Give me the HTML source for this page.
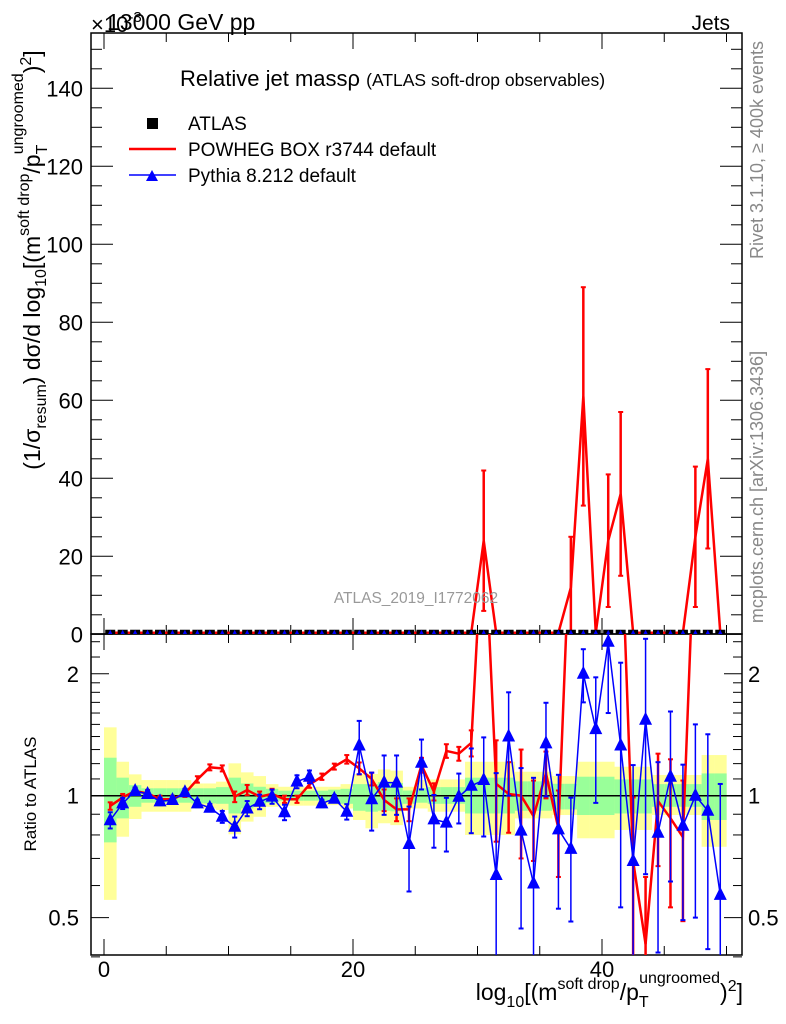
<!DOCTYPE html>
<html><head><meta charset="utf-8"><style>
html,body{margin:0;padding:0;background:#fff;overflow:hidden;width:786px;height:1024px;}
svg{display:block;font-family:"Liberation Sans",sans-serif;}
</style></head><body>
<svg id="chart" width="786" height="1024" viewBox="0 0 786 1024" xmlns="http://www.w3.org/2000/svg">
<defs>
<clipPath id="clipTop"><rect x="91" y="33" width="651" height="601"/></clipPath>
<clipPath id="clipRat"><rect x="91" y="634" width="651" height="321"/></clipPath>
</defs>
<g id="bands" clip-path="url(#clipRat)"></g>
<g id="axes"></g>
<g id="series"></g>
<text x="107" y="30" font-size="23">13000 GeV pp</text>
<text x="91" y="32" font-size="22">×10<tspan dy="-10" font-size="15">-3</tspan></text>
<text x="730" y="30" font-size="21" text-anchor="end">Jets</text>
<text x="180" y="86" font-size="22">Relative jet massρ <tspan font-size="17.5">(ATLAS soft-drop observables)</tspan></text>
<g>
<rect x="147" y="118" width="11" height="11" fill="#000"/>
<text x="188" y="130" font-size="19">ATLAS</text>
<line x1="129" y1="149" x2="176" y2="149" stroke="#f00" stroke-width="2.5"/>
<text x="188" y="156" font-size="19">POWHEG BOX r3744 default</text>
<line x1="129" y1="175" x2="176" y2="175" stroke="#00f" stroke-width="1.5"/>
<polygon points="146,181 158,181 152,170" fill="#00f"/>
<text x="188" y="182" font-size="19">Pythia 8.212 default</text>
</g>
<text x="416" y="603" font-size="15.5" fill="#999" text-anchor="middle">ATLAS_2019_I1772062</text>
<text transform="translate(763,150) rotate(-90)" font-size="18" fill="#888" text-anchor="middle">Rivet 3.1.10, ≥ 400k events</text>
<text transform="translate(763,487) rotate(-90)" font-size="18" fill="#888" text-anchor="middle">mcplots.cern.ch [arXiv:1306.3436]</text>
<text transform="translate(40,260) rotate(-90)" font-size="23" text-anchor="middle">(1/σ<tspan font-size="16" dy="6">resum</tspan><tspan dy="-6">) dσ/d log</tspan><tspan font-size="16" dy="6">10</tspan><tspan dy="-6">[(m</tspan><tspan font-size="16" dy="-11">soft drop</tspan><tspan dy="11">/p</tspan><tspan font-size="16" dy="7">T</tspan><tspan font-size="16" dx="-9" dy="-24">ungroomed</tspan><tspan dy="17">)</tspan><tspan font-size="16" dy="-9">2</tspan><tspan dy="9">]</tspan></text>
<text transform="translate(36,794) rotate(-90)" font-size="17" text-anchor="middle">Ratio to ATLAS</text>
<text x="743" y="1000" font-size="23" text-anchor="end">log<tspan font-size="16" dy="7">10</tspan><tspan dy="-7">[(m</tspan><tspan font-size="16" dy="-11">soft drop</tspan><tspan dy="11">/p</tspan><tspan font-size="16" dy="7">T</tspan><tspan font-size="16" dx="-9" dy="-24">ungroomed</tspan><tspan dy="17">)</tspan><tspan font-size="16" dy="-9">2</tspan><tspan dy="9">]</tspan></text>
<script>
const bins = [0,1,2,3,4,5,6,7,8,9,10,11,12,13,14,15,16,17,18,19,20,21,22,23,24,25,26,27,28,29,30,31,32,33,34,35,36,37,38,39,40,41,42,43,44,45,46,47,48,49];
const topData = [0.4,0.4,0.4,0.4,0.4,0.4,0.4,0.4,0.4,0.4,0.4,0.4,0.4,0.4,0.4,0.4,0.4,0.4,0.4,0.4,0.4,0.4,0.4,0.4,0.4,0.4,0.4,0.4,0.4,0.4,0.4,0.4,0.4,0.4,0.4,0.4,0.4,0.4,0.4,0.4,0.4,0.4,0.4,0.4,0.4,0.4,0.4,0.4,0.4,0.4];
const topRed = [0.4,0.4,0.4,0.4,0.4,0.4,0.4,0.4,0.4,0.4,0.4,0.4,0.4,0.4,0.4,0.4,0.4,0.4,0.4,0.4,0.4,0.4,0.4,0.4,0.4,0.4,0.4,0.4,0.4,0.4,24,0.4,0.4,0.4,0.4,0.4,0.4,12,61,0.4,24,36,0.4,0.4,0.4,0.4,0.4,25,45,0.4];
const topRedErr = [0,0,0,0,0,0,0,0,0,0,0,0,0,0,0,0,0,0,0,0,0,0,0,0,0,0,0,0,0,0,18,0,0,0,0,0,0,13,28,0,17,21,0,0,0,0,0,18,23,0];
const ratioRed = [0.943,0.99,1.027,1.013,0.98,0.98,1.013,1.097,1.175,1.168,0.994,1.033,0.994,1.01,0.98,0.98,1.066,1.114,1.18,1.23,1.168,1.10,0.976,0.925,0.925,1.19,1.023,1.29,1.27,1.35,5,1.07,1.01,1.0,0.89,1.135,0.83,5,5,5,5,5,0.69,0.43,0.97,0.88,0.79,5,5,5];
const ratioRedErr = [0.02,0.02,0.02,0.02,0.02,0.02,0.02,0.02,0.02,0.02,0.03,0.03,0.03,0.03,0.02,0.02,0.02,0.02,0.02,0.03,0.04,0.04,0.06,0.06,0.06,0.05,0.05,0.05,0.05,0.1,0,0.3,0.2,0.3,0.2,0.15,0.2,0,0,0,0,0,0.3,0.2,0.3,0.35,0.3,0,0,0];
const ratioBlue = [0.87,0.957,1.027,1.01,0.968,0.976,1.02,0.957,0.934,0.887,0.838,0.93,0.966,0.995,0.91,1.083,1.114,0.957,0.983,0.913,1.33,0.98,1.077,1.077,0.76,1.206,0.874,0.858,0.994,1.058,1.093,0.637,1.40,0.82,0.607,1.346,0.826,0.739,2.0,1.46,2.4,1.33,0.69,1.54,0.81,1.114,0.843,1.0,0.918,0.569];
const ratioBlueErr = [0.04,0.03,0.02,0.02,0.02,0.02,0.02,0.02,0.02,0.03,0.05,0.04,0.04,0.04,0.04,0.04,0.04,0.02,0.02,0.04,0.2,0.16,0.18,0.18,0.18,0.17,0.13,0.13,0.14,0.25,0.3,0.5,0.4,0.35,0.5,0.35,0.3,0.25,0.3,0.5,0.8,0.8,0.5,0.9,0.4,0.5,0.35,0.5,0.5,0.5];
const yHi = [1.475,1.213,1.129,1.093,1.093,1.093,1.093,1.072,1.072,1.083,1.202,1.142,1.118,1.068,1.052,1.052,1.052,1.052,1.052,1.068,1.131,1.131,1.161,1.153,1.052,1.093,1.097,1.097,1.097,1.213,1.213,1.213,1.213,1.146,1.146,1.146,1.118,1.118,1.213,1.213,1.213,1.179,1.179,1.179,1.125,1.125,1.125,1.125,1.260,1.260];
const yLo = [0.553,0.792,0.876,0.913,0.913,0.913,0.913,0.930,0.930,0.922,0.803,0.863,0.887,0.939,0.945,0.945,0.945,0.945,0.948,0.930,0.871,0.831,0.855,0.846,0.930,0.930,0.913,0.913,0.913,0.800,0.800,0.800,0.800,0.879,0.879,0.879,0.896,0.896,0.785,0.785,0.785,0.823,0.823,0.823,0.896,0.896,0.896,0.896,0.748,0.748];
const gHi = [1.241,1.108,1.062,1.043,1.043,1.043,1.043,1.043,1.043,1.05,1.108,1.072,1.052,1.04,1.029,1.029,1.029,1.029,1.035,1.04,1.068,1.068,1.081,1.075,1.03,1.043,1.05,1.05,1.05,1.108,1.108,1.108,1.108,1.085,1.085,1.085,1.07,1.07,1.114,1.114,1.114,1.097,1.097,1.097,1.068,1.068,1.068,1.068,1.135,1.135];
const gLo = [0.767,0.879,0.939,0.961,0.961,0.961,0.961,0.957,0.957,0.955,0.904,0.93,0.948,0.96,0.972,0.972,0.972,0.972,0.965,0.955,0.918,0.913,0.918,0.915,0.955,0.961,0.955,0.955,0.955,0.904,0.904,0.904,0.904,0.918,0.918,0.918,0.925,0.925,0.896,0.896,0.896,0.904,0.904,0.904,0.939,0.939,0.939,0.939,0.871,0.871];
const topTicks = [0,20,40,60,80,100,120,140];
const xTicks = [0,20,40];
const ratioTicks = [0.5,1,2];
const ratioTickLabels = ["0.5","1","2"];

const NS = "http://www.w3.org/2000/svg";
const X = v => 104 + 12.45 * v;
const YT = v => 634.3 - 3.9 * v;
const YR = r => 795.7 - 405 * Math.log10(r);
function mk(tag, attrs, parent) {
  const e = document.createElementNS(NS, tag);
  for (const k in attrs) e.setAttribute(k, attrs[k]);
  parent.appendChild(e);
  return e;
}
const bandsG = document.getElementById('bands');
const axesG = document.getElementById('axes');
const serG = document.getElementById('series');

bins.forEach(i => {
  const y = mk('rect', {x: X(i), y: YR(yHi[i]), width: 12.6, height: YR(yLo[i]) - YR(yHi[i]), fill: '#ffff99'}, bandsG);
  
  
  const g = mk('rect', {x: X(i), y: YR(gHi[i]), width: 12.6, height: YR(gLo[i]) - YR(gHi[i]), fill: '#99ff99'}, bandsG);
  
  
});
mk('line', {x1: 91, x2: 742, y1: YR(1), y2: YR(1), stroke: '#000', 'stroke-width': 1.5}, bandsG);

mk('rect', {x: 91, y: 33, width: 651, height: 601, fill: 'none', stroke: '#000', 'stroke-width': 1.5}, axesG);
mk('rect', {x: 91, y: 634, width: 651, height: 321, fill: 'none', stroke: '#000', 'stroke-width': 1.5}, axesG);
for (let v = 0; v <= 150; v += 5) {
  const L = v % 20 === 0 ? 22 : 11;
  mk('line', {x1: 91, x2: 91 + L, y1: YT(v), y2: YT(v), stroke: '#000'}, axesG);
  mk('line', {x1: 742, x2: 742 - L, y1: YT(v), y2: YT(v), stroke: '#000'}, axesG);
}
topTicks.forEach(v => {
  const t = mk('text', {x: 83, y: YT(v) + 8, 'font-size': 22, 'text-anchor': 'end'}, axesG);
  t.textContent = v;
  
  
});
for (let v = 0; v <= 50; v += 5) {
  const L = v % 20 === 0 ? 16 : 9;
  mk('line', {x1: X(v), x2: X(v), y1: 33, y2: 33 + L, stroke: '#000'}, axesG);
  mk('line', {x1: X(v), x2: X(v), y1: 634, y2: 634 - L, stroke: '#000'}, axesG);
  mk('line', {x1: X(v), x2: X(v), y1: 634, y2: 634 + L, stroke: '#000'}, axesG);
  mk('line', {x1: X(v), x2: X(v), y1: 955, y2: 955 - L, stroke: '#000'}, axesG);
}
xTicks.forEach(v => {
  const t = mk('text', {x: X(v), y: 977, 'font-size': 22, 'text-anchor': 'middle'}, axesG);
  t.textContent = v;
  
  
});
const minor = [0.4,0.5,0.6,0.7,0.8,0.9,1,1.1,1.2,1.3,1.4,1.5,1.6,1.7,1.8,1.9,2,2.2,2.4];
minor.forEach(r => {
  const L = ratioTicks.includes(r) ? 18 : 9;
  mk('line', {x1: 91, x2: 91 + L, y1: YR(r), y2: YR(r), stroke: '#000'}, axesG);
  mk('line', {x1: 742, x2: 742 - L, y1: YR(r), y2: YR(r), stroke: '#000'}, axesG);
});
ratioTicks.forEach((r, k) => {
  const t = mk('text', {x: 79, y: YR(r) + 8, 'font-size': 22, 'text-anchor': 'end'}, axesG);
  t.textContent = ratioTickLabels[k];
  
  
  const t2 = mk('text', {x: 748, y: YR(r) + 8, 'font-size': 22}, axesG);
  t2.textContent = ratioTickLabels[k];
  
  
});

const topG = mk('g', {'clip-path': 'url(#clipTop)'}, serG);
const rc = bins.map(i => X(i + 0.5) + ',' + YT(topRed[i])).join(' ');
const redTop = mk('polyline', {points: rc, fill: 'none', stroke: '#f00', 'stroke-width': 2.5}, topG);


bins.forEach(i => {
  if (topRedErr[i] > 0) {
    const x = X(i + 0.5);
    mk('line', {x1: x, x2: x, y1: YT(topRed[i] + topRedErr[i]), y2: YT(topRed[i] - topRedErr[i]), stroke: '#f00', 'stroke-width': 2.5}, topG);
    mk('line', {x1: x - 2.5, x2: x + 2.5, y1: YT(topRed[i] + topRedErr[i]), y2: YT(topRed[i] + topRedErr[i]), stroke: '#f00', 'stroke-width': 2}, topG);
    mk('line', {x1: x - 2.5, x2: x + 2.5, y1: YT(topRed[i] - topRedErr[i]), y2: YT(topRed[i] - topRedErr[i]), stroke: '#f00', 'stroke-width': 2}, topG);
  }
});
bins.forEach(i => {
  const x = X(i + 0.5), y = YT(topData[i]);
  const s = mk('rect', {x: x - 5, y: y - 3, width: 10, height: 6, fill: '#000'}, topG);
  
  
  mk('polygon', {points: (x - 2.5) + ',' + (y + 2) + ' ' + (x + 2.5) + ',' + (y + 2) + ' ' + x + ',' + (y - 3), fill: '#00f'}, topG);
});

const ratG = mk('g', {'clip-path': 'url(#clipRat)'}, serG);
function errBar(g, x, v, e, col, w) {
  if (e <= 0) return;
  const lo = Math.max(v - e, 0.01);
  mk('line', {x1: x, x2: x, y1: YR(v + e), y2: YR(lo), stroke: col, 'stroke-width': w}, g);
  mk('line', {x1: x - 2.5, x2: x + 2.5, y1: YR(v + e), y2: YR(v + e), stroke: col, 'stroke-width': 2}, g);
  mk('line', {x1: x - 2.5, x2: x + 2.5, y1: YR(lo), y2: YR(lo), stroke: col, 'stroke-width': 2}, g);
}
const redPts = bins.map(i => X(i + 0.5) + ',' + YR(ratioRed[i])).join(' ');
const redR = mk('polyline', {points: redPts, fill: 'none', stroke: '#f00', 'stroke-width': 2.5}, ratG);


bins.forEach(i => errBar(ratG, X(i + 0.5), ratioRed[i], ratioRedErr[i], '#f00', 2.5));
const bluePts = bins.map(i => X(i + 0.5) + ',' + YR(ratioBlue[i])).join(' ');
const blueR = mk('polyline', {points: bluePts, fill: 'none', stroke: '#00f', 'stroke-width': 1.5}, ratG);


bins.forEach(i => {
  const x = X(i + 0.5), y = YR(ratioBlue[i]);
  errBar(ratG, x, ratioBlue[i], ratioBlueErr[i], '#00f', 1.5);
  const t = mk('polygon', {points: (x - 6.5) + ',' + (y + 5) + ' ' + (x + 6.5) + ',' + (y + 5) + ' ' + x + ',' + (y - 8), fill: '#00f'}, ratG);
  
  
});
</script>
</svg>
</body></html>
